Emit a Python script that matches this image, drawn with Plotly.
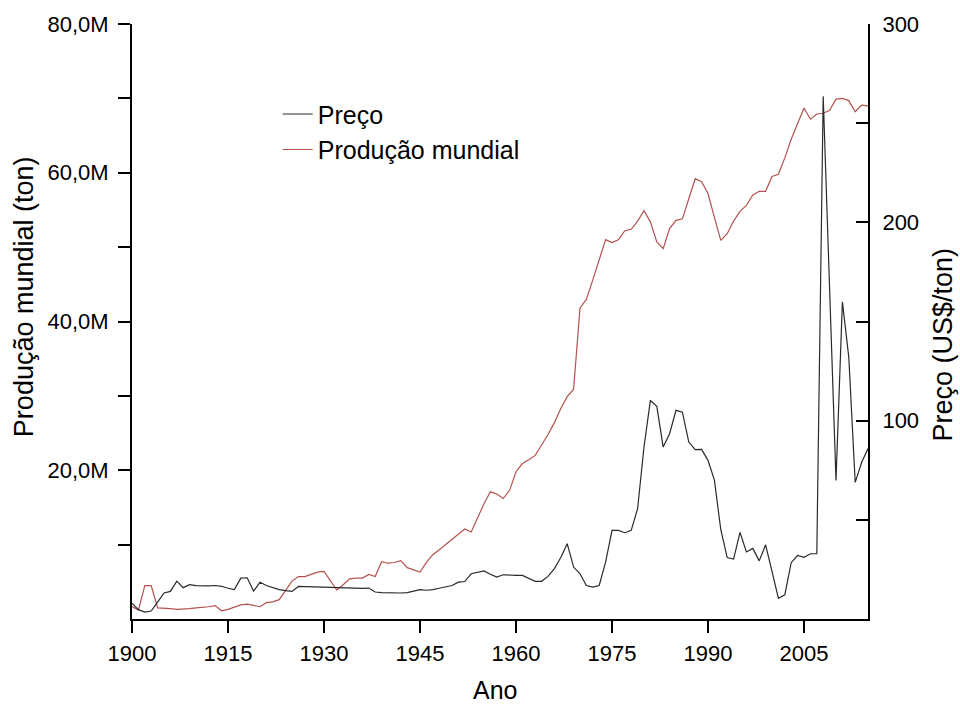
import plotly.graph_objects as go

# ---- data ----
years = list(range(1900, 2016))

producao_mt = [  # world production, million tonnes, 1900-2015
    1.66, 1.2, 4.5, 4.5, 1.5, 1.4, 1.4, 1.3, 1.3, 1.4,
    1.5, 1.55, 1.65, 1.8, 1.1, 1.3, 1.55, 1.9, 2.0, 1.85,
    1.65, 2.2, 2.3, 2.6, 3.9, 5.1, 5.7, 5.7, 6.0, 6.3,
    6.4, 5.1, 3.9, 4.6, 5.4, 5.5, 5.5, 6.0, 5.7, 7.7,
    7.5, 7.6, 7.85, 6.9, 6.6, 6.3, 7.6, 8.65, 9.3, 10.0,
    10.6, 11.3, 12.1, 11.7, 13.6, 15.5, 17.1, 16.8, 16.2, 17.3,
    19.8, 20.9, 21.4, 22.0, 23.4, 24.8, 26.4, 28.3, 29.9, 30.9,
    41.8, 43.0, 45.6, 48.3, 51.0, 50.6, 51.0, 52.2, 52.4, 53.5,
    54.9, 53.4, 50.7, 49.8, 52.5, 53.6, 53.8, 56.5, 59.2, 58.8,
    57.2, 54.0, 50.9, 51.8, 53.5, 54.8, 55.6, 57.0, 57.5, 57.5,
    59.5, 59.8, 62.0, 64.5, 66.5, 68.7, 67.2, 67.9, 68.0, 68.4,
    69.9, 70.0, 69.7, 68.2, 69.1, 69.0,
]
producao = [v * 1e6 for v in producao_mt]

preco = [  # price, US$/ton, 1900-2015
    8.0, 4.7, 3.5, 4.0, 8.5, 13.1, 13.9, 19.1, 15.8, 17.3,
    16.8, 16.6, 16.7, 16.9, 16.5, 15.5, 14.8, 20.6, 20.8, 14.1,
    18.5, 16.9, 15.8, 14.8, 14.3, 13.9, 16.4, 16.3, 16.2, 16.1,
    16.0, 15.8, 15.7, 15.5, 15.4, 15.3, 15.4, 15.6, 13.6, 13.3,
    13.2, 13.1, 13.1, 13.3, 13.9, 14.8, 14.5, 14.8, 15.5, 16.1,
    16.9, 18.6, 18.9, 22.8, 23.4, 24.2, 22.6, 21.1, 22.3, 22.0,
    22.0, 22.0, 20.5, 19.0, 19.0, 21.5, 25.4, 31.0, 38.0, 26.2,
    22.8, 16.9, 16.1, 16.9, 28.7, 44.7, 44.7, 43.5, 44.7, 55.6,
    86.7, 110.2, 107.2, 86.7, 93.4, 105.2, 104.3, 89.2, 85.4, 85.5,
    80.0, 70.0, 45.0, 31.0, 30.2, 43.7, 33.8, 35.6, 29.3, 37.4,
    24.0, 10.4, 12.2, 28.4, 32.0, 31.1, 32.9, 32.9, 263.5, 166.0,
    69.8, 159.9, 132.0, 68.9, 78.9, 86.0,
]

x_ticks = [1900, 1915, 1930, 1945, 1960, 1975, 1990, 2005]
y1_ticks = [10e6, 20e6, 30e6, 40e6, 50e6, 60e6, 70e6, 80e6]
y1_text = ["", "20,0M", "", "40,0M", "", "60,0M", "", "80,0M"]
y2_ticks = [50, 100, 150, 200, 250, 300]
y2_text = ["", "100", "", "200", "", "300"]

FONT = "Liberation Sans, Arial, sans-serif"

fig = go.Figure()
fig.add_trace(go.Scatter(
    x=years, y=producao, name="Produção mundial", mode="lines",
    line=dict(color="#b5524f", width=1.2), legendrank=2,
))
fig.add_trace(go.Scatter(
    x=years, y=preco, name="Preço", mode="lines", yaxis="y2",
    line=dict(color="#2a2a2a", width=1.2), legendrank=1,
))

axis_common = dict(
    showline=True, linecolor="black", linewidth=2,
    showgrid=False, zeroline=False,
    tickcolor="black", tickwidth=2, ticklen=12,
    tickfont=dict(family=FONT, size=22, color="black"),
)

fig.update_layout(
    width=960, height=705,
    margin=dict(l=132, r=92, t=24, b=86),
    paper_bgcolor="white", plot_bgcolor="white",
    font=dict(family=FONT, color="black"),
    xaxis=dict(range=[1900, 2015], tickmode="array", tickvals=x_ticks,
               ticks="outside", ticklabelstandoff=2, **axis_common),
    yaxis=dict(range=[0, 80e6], tickmode="array", tickvals=y1_ticks,
               ticktext=y1_text, ticks="outside", ticklabelstandoff=5,
               **axis_common),
    yaxis2=dict(range=[0, 300], tickmode="array", tickvals=y2_ticks,
                ticktext=y2_text, ticks="inside", overlaying="y",
                side="right", ticklabelstandoff=8, **axis_common),
    legend=dict(x=0.198, y=0.887, xanchor="left", yanchor="top",
                bgcolor="rgba(0,0,0,0)", font=dict(family=FONT, size=25),
                tracegroupgap=0),
    showlegend=True,
    annotations=[
        dict(text="Produção mundial (ton)", xref="paper", yref="paper",
             x=-0.1467, y=0.541, textangle=-90, showarrow=False,
             xanchor="center", yanchor="middle",
             font=dict(family=FONT, size=27)),
        dict(text="Preço (US$/ton)", xref="paper", yref="paper",
             x=1.1025, y=0.462, textangle=-90, showarrow=False,
             xanchor="center", yanchor="middle",
             font=dict(family=FONT, size=27)),
        dict(text="Ano", xref="paper", yref="paper",
             x=0.493, y=-0.12, showarrow=False,
             xanchor="center", yanchor="middle",
             font=dict(family=FONT, size=25)),
    ],
)

fig.write_html("out.html")
